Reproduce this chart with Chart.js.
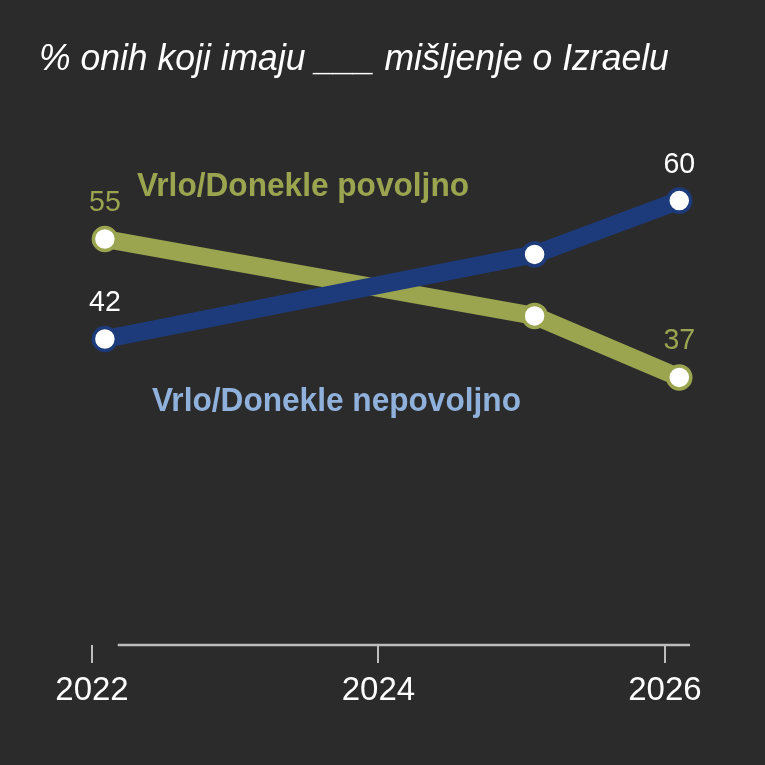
<!DOCTYPE html>
<html>
<head>
<meta charset="utf-8">
<script src="https://cdn.jsdelivr.net/npm/chart.js@4.4.1/dist/chart.umd.min.js"></script>
<style>
html,body{margin:0;padding:0;background:#2b2b2b;}
#wrap{width:765px;height:765px;position:relative;}
</style>
</head>
<body>
<div id="wrap"><canvas id="c"></canvas></div>
<script>
// ---- data ----
const titleText = '% onih koji imaju ___ mišljenje o Izraelu';
const surveyDates = [2022.09, 2025.09, 2026.10];     // survey timing (years)
const favorable = [55, 45, 37];                      // Vrlo/Donekle povoljno
const unfavorable = [42, 53, 60];                    // Vrlo/Donekle nepovoljno
const seriesNames = ['Vrlo/Donekle povoljno', 'Vrlo/Donekle nepovoljno'];
const tickYears = [2022, 2024, 2026];

const OLIVE = '#9ba44f';
const NAVY = '#1d3b7b';
const LIGHTBLUE = '#8fb1dc';
const BG = '#2b2b2b';
const SANS = '"Liberation Sans", Arial, sans-serif';

// draws horizontally condensed text (narrow face look)
function narrowText(ctx, text, x, y, font, color, sx, align) {
  ctx.save();
  ctx.font = font;
  ctx.fillStyle = color;
  ctx.textBaseline = 'alphabetic';
  ctx.textAlign = align || 'left';
  ctx.translate(x, y);
  ctx.scale(sx, 1);
  ctx.fillText(text, 0, 0);
  ctx.restore();
}

const bgPlugin = {
  id: 'bg',
  beforeDraw(chart) {
    const ctx = chart.ctx;
    ctx.save();
    ctx.fillStyle = BG;
    ctx.fillRect(0, 0, chart.width, chart.height);
    ctx.restore();
  }
};

const titlePlugin = {
  id: 'narrowTitle',
  afterDraw(chart, args, opts) {
    narrowText(chart.ctx, opts.text, opts.x, opts.y, 'italic 37px ' + SANS, '#ffffff', 0.96, 'left');
  }
};

// axis baseline drawn through the x scale
const axisLinePlugin = {
  id: 'axisLine',
  afterDraw(chart, args, opts) {
    const xs = chart.scales.x;
    const ctx = chart.ctx;
    const y = chart.chartArea.bottom;
    ctx.save();
    ctx.strokeStyle = '#bdbdbd';
    ctx.lineWidth = 2.5;
    ctx.beginPath();
    ctx.moveTo(xs.getPixelForValue(opts.from), y);
    ctx.lineTo(xs.getPixelForValue(opts.to), y);
    ctx.stroke();
    ctx.restore();
  }
};

const labelPlugin = {
  id: 'labels',
  afterDatasetsDraw(chart, args, opts) {
    const ctx = chart.ctx;
    const xs = chart.scales.x, ys = chart.scales.y;
    chart.data.datasets.forEach((ds, di) => {
      const meta = chart.getDatasetMeta(di);
      const n = ds.data.length;
      [0, n - 1].forEach(i => {
        const pt = meta.data[i];
        narrowText(ctx, String(ds.data[i].y), pt.x, pt.y - 28, '30px ' + SANS, ds.valueColor, 0.95, 'center');
      });
    });
    opts.names.forEach(nm => {
      narrowText(ctx, nm.text, xs.getPixelForValue(nm.x), ys.getPixelForValue(nm.y),
        'bold 34px ' + SANS, nm.color, 0.93, 'left');
    });
  }
};

const toPts = (xs, ys) => xs.map((x, i) => ({x: x, y: ys[i]}));

new Chart(document.getElementById('c'), {
  type: 'line',
  data: {
    datasets: [
      {
        label: seriesNames[1],
        data: toPts(surveyDates, unfavorable),
        borderColor: NAVY,
        backgroundColor: NAVY,
        borderWidth: 18,
        pointRadius: 11.5,
        pointBorderWidth: 3.5,
        pointBackgroundColor: '#ffffff',
        pointBorderColor: NAVY,
        valueColor: '#ffffff',
        tension: 0
      },
      {
        label: seriesNames[0],
        data: toPts(surveyDates, favorable),
        borderColor: OLIVE,
        backgroundColor: OLIVE,
        borderWidth: 18,
        pointRadius: 11.5,
        pointBorderWidth: 3.5,
        pointBackgroundColor: '#ffffff',
        pointBorderColor: OLIVE,
        valueColor: OLIVE,
        tension: 0
      }
    ]
  },
  options: {
    responsive: true,
    maintainAspectRatio: false,
    animation: false,
    layout: { padding: { left: 40, right: 25, top: 120, bottom: 0 } },
    scales: {
      x: {
        type: 'linear',
        min: 2021.637,
        max: 2026.524,
        afterBuildTicks: s => { s.ticks = tickYears.map(v => ({value: v})); },
        afterFit: s => { s.height = 120; },
        ticks: {
          color: '#ffffff',
          font: { family: SANS, size: 33 },
          padding: 8,
          maxRotation: 0,
          autoSkip: false,
          callback: v => String(v)
        },
        grid: {
          display: true,
          drawOnChartArea: false,
          drawTicks: true,
          tickLength: 18,
          color: '#bdbdbd',
          lineWidth: 2
        },
        border: { display: false }
      },
      y: {
        display: false,
        min: 2.22,
        max: 70.47
      }
    },
    plugins: {
      legend: { display: false },
      tooltip: { enabled: false },
      title: { display: false },
      narrowTitle: { text: titleText, x: 39, y: 70 },
      axisLine: { from: 2022.18, to: 2026.175 },
      labels: {
        names: [
          { text: seriesNames[0], color: OLIVE, x: 2022.314, y: 60.59 },
          { text: seriesNames[1], color: LIGHTBLUE, x: 2022.419, y: 32.64 }
        ]
      }
    }
  },
  plugins: [bgPlugin, axisLinePlugin, labelPlugin, titlePlugin]
});
</script>
</body>
</html>
